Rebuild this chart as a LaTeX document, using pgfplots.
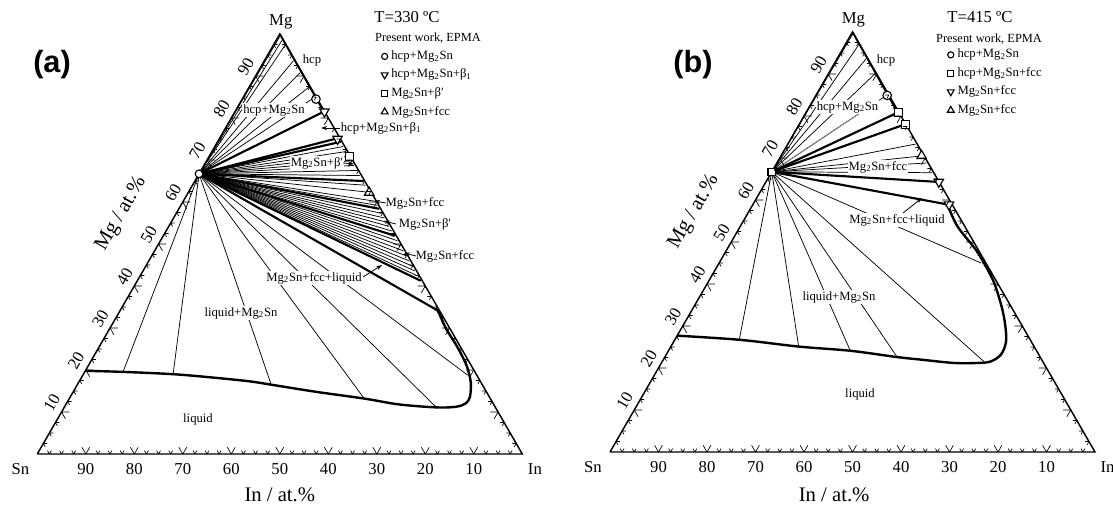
\documentclass[border=0pt]{standalone}
\usepackage{pgfplots}
\usepackage{pgfplotstable}
\pgfplotsset{compat=1.18}
\usepackage{fontspec}
\setmainfont{Liberation Serif}
\newfontfamily\panelfont{Liberation Sans}
\usetikzlibrary{arrows.meta}

% ---------------- compositions (In, Mg) in at.% ----------------
\pgfplotstableread{
In Mg
0 0
100 0
0 100
0 0
}\frameT

% (a) 330 C : tie-line ends, the other end is Mg2Sn (In 0, Mg 66.7)
\pgfplotstableread{
In Mg
0.3 99.6
1.2 98.4
2.4 97.2
6.0 93.6
8.8 90.8
12.3 87.3
14.7 84.9
26.4 73.2
27.6 72.0
28.7 70.9
29.8 69.8
30.9 68.7
32.1 67.5
33.3 66.3
35.6 64.0
37.3 62.3
39.4 60.2
40.4 59.2
42.3 57.3
43.4 56.2
44.4 55.2
45.4 54.2
46.5 53.1
48.8 50.8
50.0 49.6
51.2 48.4
52.4 47.2
53.6 46.0
54.8 44.8
56.0 43.6
57.2 42.4
7.9 19.55
18.5 19.0
39.9 16.6
60.8 13.2
76.6 11.2
79.3 18.8
}\tieThinA
\pgfplotstableread{
In Mg
18.3 81.5
24.4 75.2
25.3 74.3
34.6 65.0
41.2 58.4
47.6 52.0
58.3 41.3
65.4 34.2
}\tieThickA
\pgfplotstableread{
In Mg
0 100
18.3 81.5
}\hcpA
\pgfplotstableread{
In Mg
0 19.8
7.9 19.55
18.5 19.0
27.1 18.2
35.1 17.3
40.0 16.5
50.1 14.8
60.8 13.2
68.7 11.8
76.7 11.1
80.7 11.25
82.3 12.05
82.4 13.6
81.0 16.8
79.4 19.2
77.6 21.5
73.85 25.5
69.3 29.9
66.2 33.4
65.4 34.2
}\liquidA
\pgfplotstableread{
In Mg
15.2 84.5
}\epmaCircA
\pgfplotstableread{
In Mg
18.45 81.5
24.4 75.0
}\epmaDownA
\pgfplotstableread{
In Mg
28.85 70.9
}\epmaSqA
\pgfplotstableread{
In Mg
37.3 62.25
}\epmaUpA

% (b) 415 C
\pgfplotstableread{
In Mg
0.3 99.6
2.8 96.8
6.0 93.6
9.6 90.0
14.6 85.0
26.3 73.3
29.1 70.5
30.8 68.8
33.1 66.5
13.3 26.7
26.35 25.1
37.5 24.1
47.9 22.6
66.3 21.55
54.0 45.0
}\tieThinB
\pgfplotstableread{
In Mg
11.0 80.4
}\tieGrayB
\pgfplotstableread{
In Mg
18.9 80.8
21.8 78.0
35.5 64.3
40.3 58.9
}\tieThickB
\pgfplotstableread{
In Mg
0 100
18.9 80.8
}\hcpB
\pgfplotstableread{
In Mg
0 27.7
13.5 26.7
26.35 25.1
37.5 24.1
47.9 22.6
53.05 22.0
60.3 21.2
65.2 21.2
67.7 21.55
69.0 23.15
68.65 25.9
67.05 29.1
63.95 33.9
59.05 40.3
54.6 45.0
51.3 48.2
44.7 53.8
40.1 58.95
}\liquidB
\pgfplotstableread{
In Mg
14.7 84.9
}\epmaCircB
\pgfplotstableread{
In Mg
19.0 80.8
21.95 78.0
}\epmaSqB
\pgfplotstableread{
In Mg
35.65 64.3
40.45 58.9
}\epmaDownB
\pgfplotstableread{
In Mg
29.0 70.5
}\epmaUpB
\pgfplotstableread{
In Mg
0 66.7
}\compound

\pgfplotsset{
  table/tern/.style={x expr=\thisrow{In}+0.5*\thisrow{Mg},
                     y expr=0.8660254*\thisrow{Mg}},
  % segment from the listed composition to Mg2Sn
  tie/.style={quiver={u={33.35-\thisrow{In}-0.5*\thisrow{Mg}},
                      v={57.76389-0.8660254*\thisrow{Mg}}}},
  ternary panel/.style={x=3.6375pt, y=3.6375pt,
    xmin=0, xmax=100, ymin=0, ymax=86.60254,
    hide axis, clip=false, anchor=south west,
    legend cell align=left,
    legend style={draw=none, fill=none, anchor=north west, inner sep=0pt,
      row sep=3.2pt, column sep=1.5pt,
      font=\fontsize{9.5}{11}\selectfont,
      nodes={inner sep=1pt, text depth=0.2em}},
    legend image code/.code={\draw[##1,/tikz/every mark/.append style={scale=0.72}]
        plot coordinates {(4pt,0pt)};}},
  edge/.style={black, line width=1.1pt, line join=miter, forget plot},
  thinline/.style={black, line width=0.55pt, line cap=round, forget plot},
  grayline/.style={black!45, line width=0.55pt, forget plot},
  thickline/.style={black, line width=1.6pt, line cap=round, forget plot},
  liq/.style={black, line width=1.8pt, smooth, tension=0.55, forget plot},
  bnd/.style={black, line width=1.3pt, forget plot},
  mk/.style={only marks, mark size=#1,
    mark options={draw=black, fill=white, line width=0.85pt, solid}},
  mkdown/.style={only marks, mark size=#1, mark=triangle*,
    mark options={draw=black, fill=white, line width=0.85pt, solid, rotate=180}},
}

\newcommand\ternticks{%
  \foreach \k in {1,...,39}{%
    \pgfmathsetmacro\t{2.5*\k}%
    \pgfmathsetmacro\L{ifthenelse(mod(\k,4)==0,1.6,0.8)}%
    \draw[line width=0.5pt] (\t,0) -- ++(60:\L) (\t,0) -- ++(120:\L);
    \draw[line width=0.5pt] (\t/2,0.8660254*\t) -- ++(0:\L)
                            (\t/2,0.8660254*\t) -- ++(-60:\L);
    \draw[line width=0.5pt] (100-\t/2,0.8660254*\t) -- ++(180:\L)
                            (100-\t/2,0.8660254*\t) -- ++(240:\L);
  }%
  \foreach \m in {10,20,...,90}{%
    \pgfmathtruncatemacro\lab{100-\m}%
    \node[font=\fontsize{12.5}{14}\selectfont] at (\m,-3.1) {\lab};
    \node[font=\fontsize{12.5}{14}\selectfont, rotate=60, inner sep=0pt]
      at (\m/2-1.99,0.8660254*\m+1.96) {\m};
  }%
  \node[font=\fontsize{12.5}{14}\selectfont] at (50.2,89.2) {Mg};
  \node[font=\fontsize{12.5}{14}\selectfont] at (-3.5,-3.2) {Sn};
  \node[font=\fontsize{12.5}{14}\selectfont] at (102.6,-3.1) {In};
  \node[font=\fontsize{15.5}{18}\selectfont, rotate=60, inner sep=0pt]
    at (17.3,49.5) {Mg / at.\%};
}

\begin{document}
\begin{tikzpicture}
\path[use as bounding box] (0,0) rectangle (834.75pt,381pt);

% ---------------- (a) T = 330 C ----------------
\begin{axis}[ternary panel, at={(27.98pt,40.5pt)},
             legend style={at={(0.7086,0.964)}}]
  \addplot[edge] table[tern] {\frameT};
  \addplot[thinline, tie] table[tern] {\tieThinA};
  \addplot[thickline, tie] table[tern] {\tieThickA};
  \addplot[bnd] table[tern] {\hcpA};
  \addplot[liq] table[tern] {\liquidA};
  \addplot[mk=3.2pt, mark=*] table[tern] {\epmaCircA};
  \addlegendentry{hcp+Mg\textsubscript{2}Sn}
  \addplot[mkdown=4.1pt] table[tern] {\epmaDownA};
  \addlegendentry{hcp+Mg\textsubscript{2}Sn+β\textsubscript{1}}
  \addplot[mk=3.0pt, mark=square*] table[tern] {\epmaSqA};
  \addlegendentry{Mg\textsubscript{2}Sn+β′}
  \addplot[mk=4.1pt, mark=triangle*] table[tern] {\epmaUpA};
  \addlegendentry{Mg\textsubscript{2}Sn+fcc}
  \addplot[mk=2.9pt, mark=*, forget plot] table[tern] {\compound};
\end{axis}
\begin{scope}[shift={(27.98pt,40.5pt)}, x=3.6375pt, y=3.6375pt]
  \ternticks
  \node[font=\fontsize{15.5}{18}\selectfont] at (50.0,-8.45) {In / at.\%};
\end{scope}

% ---------------- (b) T = 415 C ----------------
\begin{axis}[ternary panel, at={(457.5pt,42pt)},
             legend style={at={(0.695,0.963)}}]
  \addplot[edge] table[tern] {\frameT};
  \addplot[thinline, tie] table[tern] {\tieThinB};
  \addplot[grayline, tie] table[tern] {\tieGrayB};
  \addplot[thickline, tie] table[tern] {\tieThickB};
  \addplot[bnd] table[tern] {\hcpB};
  \addplot[liq] table[tern] {\liquidB};
  \addplot[mk=3.2pt, mark=*] table[tern] {\epmaCircB};
  \addlegendentry{hcp+Mg\textsubscript{2}Sn}
  \addplot[mk=3.0pt, mark=square*] table[tern] {\epmaSqB};
  \addlegendentry{hcp+Mg\textsubscript{2}Sn+fcc}
  \addplot[mkdown=4.1pt] table[tern] {\epmaDownB};
  \addlegendentry{Mg\textsubscript{2}Sn+fcc}
  \addplot[mk=4.1pt, mark=triangle*] table[tern] {\epmaUpB};
  \addlegendentry{Mg\textsubscript{2}Sn+fcc}
  \addplot[mk=2.8pt, mark=square*, forget plot] table[tern] {\compound};
\end{axis}
\begin{scope}[shift={(457.5pt,42pt)}, x=3.6375pt, y=3.6375pt]
  \ternticks
  \node[font=\fontsize{15.5}{18}\selectfont] at (46.2,-8.9) {In / at.\%};
\end{scope}

% ---------------- annotations (positions in px of the 1113 x 508 frame) ----------------
\begin{scope}[x=0.75pt, y=-0.75pt, shift={(0pt,381pt)},
  rl/.style={fill=white, inner sep=0.6pt, font=\fontsize{9.5}{11}\selectfont},
  arr/.style={-{Stealth[length=4.5pt,width=3pt]}, line width=0.6pt}]
  \node[font=\panelfont\bfseries\fontsize{23}{26}\selectfont] at (52,65) {(a)};
  \node[font=\panelfont\bfseries\fontsize{23}{26}\selectfont] at (693,65) {(b)};

  \node[font=\fontsize{12.5}{14}\selectfont] at (407,17) {T=330 ºC};
  \node[font=\fontsize{9.3}{11}\selectfont] at (428,38) {Present work, EPMA};
  \node[font=\fontsize{12.5}{14}\selectfont] at (980,17) {T=415 ºC};
  \node[font=\fontsize{9.3}{11}\selectfont] at (989,39) {Present work, EPMA};

  % phase fields, (a)
  \node[rl] at (312,60) {hcp};
  \node[rl] at (274,110) {hcp+Mg\textsubscript{2}Sn};
  \node[rl] at (381,128) {hcp+Mg\textsubscript{2}Sn+β\textsubscript{1}};
  \draw[arr] (340,128) -- (321,128);
  \node[rl] at (317,163) {Mg\textsubscript{2}Sn+β′};
  \draw[arr] (343,163) -- (354,164);
  \node[rl] at (415,203) {Mg\textsubscript{2}Sn+fcc};
  \draw[arr] (386,203) -- (374,201);
  \node[rl] at (425,224) {Mg\textsubscript{2}Sn+β′};
  \draw[arr] (396,224) -- (384,221);
  \node[rl] at (445,256) {Mg\textsubscript{2}Sn+fcc};
  \draw[arr] (416,256) -- (404,253);
  \node[rl] at (314,278) {Mg\textsubscript{2}Sn+fcc+liquid};
  \draw[arr] (363,277) -- (382,265);
  \node[rl] at (241,313) {liquid+Mg\textsubscript{2}Sn};
  \node[rl] at (198,419) {liquid};

  % phase fields, (b)
  \node[rl] at (886,60) {hcp};
  \node[rl] at (847.5,107) {hcp+Mg\textsubscript{2}Sn};
  \node[rl] at (878,167) {Mg\textsubscript{2}Sn+fcc};
  \node[rl] at (897,220) {Mg\textsubscript{2}Sn+fcc+liquid};
  \draw[arr] (903,213) -- (922,198);
  \node[rl] at (839,297) {liquid+Mg\textsubscript{2}Sn};
  \node[rl] at (860,394) {liquid};
\end{scope}
\end{tikzpicture}
\end{document}
